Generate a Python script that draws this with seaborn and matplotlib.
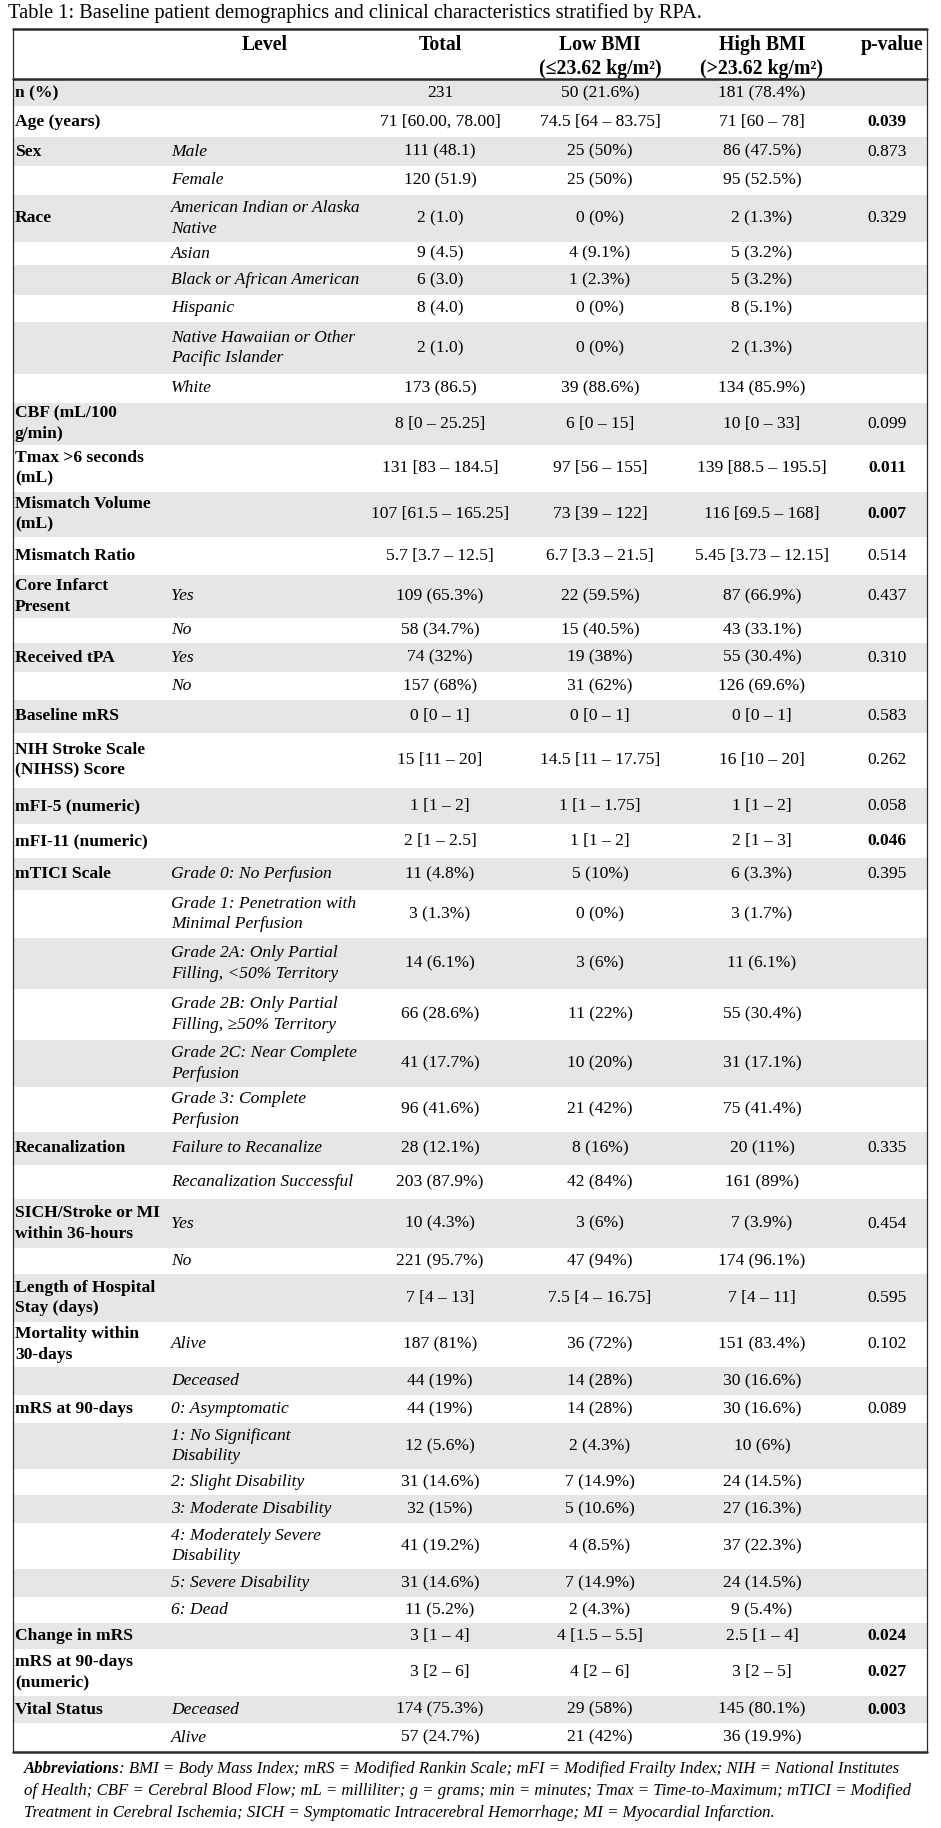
import matplotlib
matplotlib.use("Agg")
import matplotlib.pyplot as plt
import seaborn as sns

sns.set_theme(style="white")
plt.rcParams['font.family'] = ['Liberation Serif', 'DejaVu Serif']

# ---------------- data ----------------
title = "Table 1: Baseline patient demographics and clinical characteristics stratified by RPA."
headers = ["Level", "Total", "Low BMI\n(≤23.62 kg/m²)", "High BMI\n(>23.62 kg/m²)", "p-value"]

variables = [
    "n (%)", "Age (years)", "Sex", "", "Race", "", "", "", "", "",
    "CBF (mL/100\ng/min)", "Tmax >6 seconds\n(mL)", "Mismatch Volume\n(mL)", "Mismatch Ratio",
    "Core Infarct\nPresent", "", "Received tPA", "", "Baseline mRS",
    "NIH Stroke Scale\n(NIHSS) Score", "mFI-5 (numeric)", "mFI-11 (numeric)",
    "mTICI Scale", "", "", "", "", "",
    "Recanalization", "", "SICH/Stroke or MI\nwithin 36-hours", "",
    "Length of Hospital\nStay (days)", "Mortality within\n30-days", "",
    "mRS at 90-days", "", "", "", "", "", "",
    "Change in mRS", "mRS at 90-days\n(numeric)", "Vital Status", "",
]
levels = [
    "", "", "Male", "Female", "American Indian or Alaska\nNative", "Asian",
    "Black or African American", "Hispanic", "Native Hawaiian or Other\nPacific Islander", "White",
    "", "", "", "", "Yes", "No", "Yes", "No", "", "", "", "",
    "Grade 0: No Perfusion", "Grade 1: Penetration with\nMinimal Perfusion",
    "Grade 2A: Only Partial\nFilling, <50% Territory", "Grade 2B: Only Partial\nFilling, ≥50% Territory",
    "Grade 2C: Near Complete\nPerfusion", "Grade 3: Complete\nPerfusion",
    "Failure to Recanalize", "Recanalization Successful", "Yes", "No",
    "", "Alive", "Deceased",
    "0: Asymptomatic", "1: No Significant\nDisability", "2: Slight Disability",
    "3: Moderate Disability", "4: Moderately Severe\nDisability", "5: Severe Disability", "6: Dead",
    "", "", "Deceased", "Alive",
]
total = [
    "231", "71 [60.00, 78.00]", "111 (48.1)", "120 (51.9)", "2 (1.0)", "9 (4.5)", "6 (3.0)",
    "8 (4.0)", "2 (1.0)", "173 (86.5)", "8 [0 – 25.25]", "131 [83 – 184.5]",
    "107 [61.5 – 165.25]", "5.7 [3.7 – 12.5]", "109 (65.3%)", "58 (34.7%)", "74 (32%)",
    "157 (68%)", "0 [0 – 1]", "15 [11 – 20]", "1 [1 – 2]", "2 [1 – 2.5]", "11 (4.8%)",
    "3 (1.3%)", "14 (6.1%)", "66 (28.6%)", "41 (17.7%)", "96 (41.6%)", "28 (12.1%)",
    "203 (87.9%)", "10 (4.3%)", "221 (95.7%)", "7 [4 – 13]", "187 (81%)", "44 (19%)",
    "44 (19%)", "12 (5.6%)", "31 (14.6%)", "32 (15%)", "41 (19.2%)", "31 (14.6%)",
    "11 (5.2%)", "3 [1 – 4]", "3 [2 – 6]", "174 (75.3%)", "57 (24.7%)",
]
low_bmi = [
    "50 (21.6%)", "74.5 [64 – 83.75]", "25 (50%)", "25 (50%)", "0 (0%)", "4 (9.1%)", "1 (2.3%)",
    "0 (0%)", "0 (0%)", "39 (88.6%)", "6 [0 – 15]", "97 [56 – 155]", "73 [39 – 122]",
    "6.7 [3.3 – 21.5]", "22 (59.5%)", "15 (40.5%)", "19 (38%)", "31 (62%)", "0 [0 – 1]",
    "14.5 [11 – 17.75]", "1 [1 – 1.75]", "1 [1 – 2]", "5 (10%)", "0 (0%)", "3 (6%)",
    "11 (22%)", "10 (20%)", "21 (42%)", "8 (16%)", "42 (84%)", "3 (6%)", "47 (94%)",
    "7.5 [4 – 16.75]", "36 (72%)", "14 (28%)", "14 (28%)", "2 (4.3%)", "7 (14.9%)",
    "5 (10.6%)", "4 (8.5%)", "7 (14.9%)", "2 (4.3%)", "4 [1.5 – 5.5]", "4 [2 – 6]",
    "29 (58%)", "21 (42%)",
]
high_bmi = [
    "181 (78.4%)", "71 [60 – 78]", "86 (47.5%)", "95 (52.5%)", "2 (1.3%)", "5 (3.2%)",
    "5 (3.2%)", "8 (5.1%)", "2 (1.3%)", "134 (85.9%)", "10 [0 – 33]", "139 [88.5 – 195.5]",
    "116 [69.5 – 168]", "5.45 [3.73 – 12.15]", "87 (66.9%)", "43 (33.1%)", "55 (30.4%)",
    "126 (69.6%)", "0 [0 – 1]", "16 [10 – 20]", "1 [1 – 2]", "2 [1 – 3]", "6 (3.3%)",
    "3 (1.7%)", "11 (6.1%)", "55 (30.4%)", "31 (17.1%)", "75 (41.4%)", "20 (11%)",
    "161 (89%)", "7 (3.9%)", "174 (96.1%)", "7 [4 – 11]", "151 (83.4%)", "30 (16.6%)",
    "30 (16.6%)", "10 (6%)", "24 (14.5%)", "27 (16.3%)", "37 (22.3%)", "24 (14.5%)",
    "9 (5.4%)", "2.5 [1 – 4]", "3 [2 – 5]", "145 (80.1%)", "36 (19.9%)",
]
p_values = [
    "", "0.039", "0.873", "", "0.329", "", "", "", "", "",
    "0.099", "0.011", "0.007", "0.514", "0.437", "", "0.310", "", "0.583",
    "0.262", "0.058", "0.046", "0.395", "", "", "", "", "",
    "0.335", "", "0.454", "", "0.595", "0.102", "",
    "0.089", "", "", "", "", "", "",
    "0.024", "0.027", "0.003", "",
]
abbrev_bold = "Abbreviations"
abbrev_lines = [
    ": BMI = Body Mass Index; mRS = Modified Rankin Scale; mFI = Modified Frailty Index; NIH = National Institutes",
    "of Health; CBF = Cerebral Blood Flow; mL = milliliter; g = grams; min = minutes; Tmax = Time-to-Maximum; mTICI = Modified",
    "Treatment in Cerebral Ischemia; SICH = Symptomatic Intracerebral Hemorrhage; MI = Myocardial Infarction.",
]

# ---------------- layout ----------------
W, H = 941, 1828
fig = plt.figure(figsize=(W / 100, H / 100), dpi=100)
ax = fig.add_axes([0, 0, 1, 1])
ax.set_xlim(0, W)
ax.set_ylim(H, 0)
ax.axis("off")

x_left, x_right = 13, 927
table_top, header_bottom, table_bottom = 29, 79, 1752
col_label_x, col_level_x = 15, 171
col_centers = [440, 600, 762, 887]
header_centers = [265, 440, 600, 762, 892]
fs = 12.6
line_col = "#2a2a2a"
shade = "#e6e6e6"

# row heights (pixels) of the layout, top to bottom
row_heights_px = [26, 31, 29, 29, 47, 23, 30, 27, 52, 29, 42, 47, 45, 38, 43, 25, 29, 28,
                  33, 55, 36, 34, 32, 48, 51, 51, 47, 45, 33, 34, 49, 26, 48, 45, 28, 28,
                  46, 26, 28, 46, 28, 26, 26, 47, 27, 29]
scale = (table_bottom - header_bottom - 1) / sum(row_heights_px)
heights = [h * scale for h in row_heights_px]
tops = []
y = header_bottom + 1
for h in heights:
    tops.append(y)
    y += h
centers = [t + h / 2 for t, h in zip(tops, heights)]

# row shading (alternating)
colors = [shade if i % 2 == 0 else "white" for i in range(len(heights))]
ax.barh(centers, x_right - x_left, left=x_left, height=heights, color=colors,
        edgecolor="none", align="center", zorder=0)

# borders
ax.plot([x_left, x_right], [table_top, table_top], color=line_col, lw=1.8, zorder=3)
ax.plot([x_left, x_right], [header_bottom, header_bottom], color=line_col, lw=1.8, zorder=3)
ax.plot([x_left, x_right], [table_bottom, table_bottom], color=line_col, lw=1.8, zorder=3)
ax.plot([x_left, x_left], [table_top, table_bottom], color=line_col, lw=0.9, zorder=3)
ax.plot([x_right, x_right], [table_top, table_bottom], color=line_col, lw=0.9, zorder=3)

# header
for hx, htxt in zip(header_centers, headers):
    ax.text(hx, 35, htxt, ha="center", va="top", fontsize=14.2, fontweight="bold",
            linespacing=1.25, color="black")

# body
for i, c in enumerate(centers):
    if variables[i]:
        ax.text(col_label_x, c, variables[i], ha="left", va="center", fontsize=fs,
                fontweight="bold", linespacing=1.36, color="black")
    if levels[i]:
        ax.text(col_level_x, c, levels[i], ha="left", va="center", fontsize=fs,
                fontstyle="italic", linespacing=1.34, color="black")
    for cx, col in zip(col_centers[:3], (total, low_bmi, high_bmi)):
        ax.text(cx, c, col[i], ha="center", va="center", fontsize=fs, color="black")
    if p_values[i]:
        sig = float(p_values[i]) < 0.05
        ax.text(col_centers[3], c, p_values[i], ha="center", va="center", fontsize=fs,
                fontweight="bold" if sig else "normal", color="black")

# title (fit to width)
t_title = ax.text(8, 13, title, ha="left", va="center", fontsize=14, color="black")
fig.canvas.draw()
r = fig.canvas.get_renderer()
w = t_title.get_window_extent(r).width
t_title.set_fontsize(14 * 697 / w)

# abbreviations
ab_x, ab_ys = 24, [1769, 1791, 1813]
tb = ax.text(ab_x, ab_ys[0], abbrev_bold, ha="left", va="center", fontsize=11,
             fontstyle="italic", fontweight="bold", color="black")
t1 = ax.text(ab_x, ab_ys[0], abbrev_lines[0], ha="left", va="center", fontsize=11,
             fontstyle="italic", color="black")
fig.canvas.draw()
wtot = tb.get_window_extent(r).width + t1.get_window_extent(r).width
afs = 11 * 879 / wtot
tb.set_fontsize(afs)
t1.set_fontsize(afs)
fig.canvas.draw()
t1.set_x(ab_x + tb.get_window_extent(r).width - 1)
for yy, line in zip(ab_ys[1:], abbrev_lines[1:]):
    ax.text(ab_x, yy, line, ha="left", va="center", fontsize=afs, fontstyle="italic",
            color="black")

fig.savefig("out.png", dpi=100, facecolor="white")
